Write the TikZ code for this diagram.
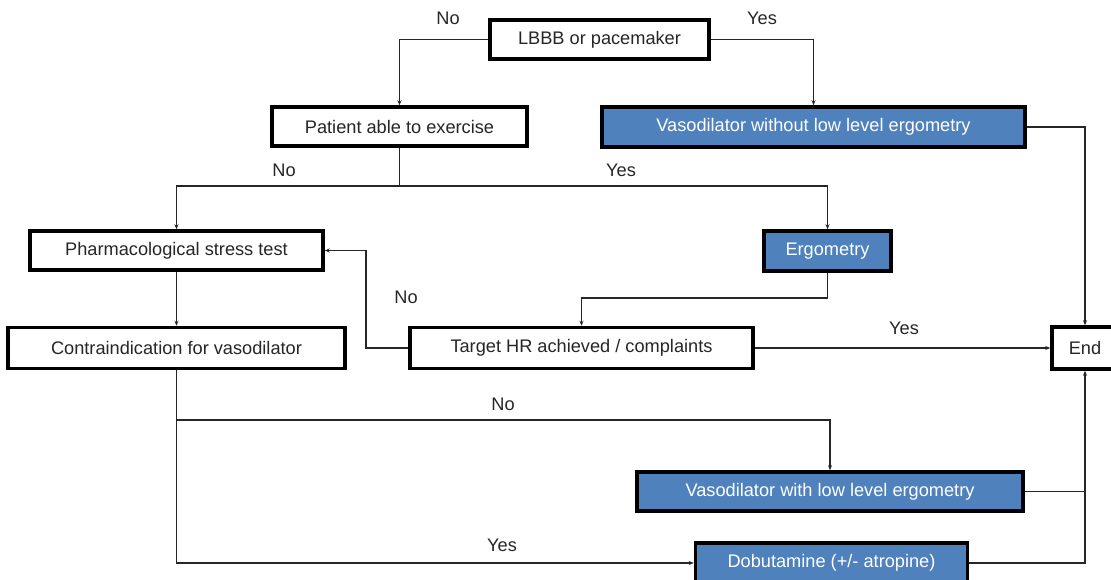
\documentclass[tikz,border=0pt]{standalone}
\usepackage{fontspec}
\setmainfont{Liberation Sans}
\usetikzlibrary{arrows.meta}
\definecolor{boxblue}{HTML}{4F81BD}
\begin{document}
\begin{tikzpicture}[x=1pt,y=-1pt,
  box/.style={draw=black, line width=3.5pt, fill=white, inner sep=0pt, font=\fontsize{18.2}{21}\selectfont, text=black!85},
  bluebox/.style={box, fill=boxblue, text=white},
  conn/.style={draw=black!85, line width=1.6pt, -{Stealth[length=5pt,width=4pt]}},
  line/.style={draw=black!85, line width=1.6pt},
  lab/.style={font=\fontsize{18.2}{21}\selectfont, text=black!85, inner sep=0pt}]
\useasboundingbox (0,0) rectangle (1111,580);
\node[box, minimum width=219pt, minimum height=39pt] (lbbb) at (599.5,39.5) {LBBB or pacemaker};
\node[box, minimum width=255pt, minimum height=39pt] (pat) at (399.5,126.5) {Patient able to exercise};
\node[bluebox, minimum width=423pt, minimum height=40pt] (vwo) at (813.5,127) {Vasodilator without low level ergometry};
\node[box, minimum width=293pt, minimum height=39pt] (pharm) at (176.5,250.5) {Pharmacological stress test};
\node[bluebox, minimum width=127pt, minimum height=40pt] (ergo) at (827.5,251) {Ergometry};
\node[box, minimum width=337pt, minimum height=41pt] (contra) at (176.5,348) {Contraindication for vasodilator};
\node[box, minimum width=343pt, minimum height=41pt] (target) at (581.5,348) {Target HR achieved / complaints};
\node[box, minimum width=66pt, minimum height=42pt] (end) at (1085,348) {End};
\node[bluebox, minimum width=386pt, minimum height=39pt] (vw) at (830,491.5) {Vasodilator with low level ergometry};
\node[bluebox, minimum width=272pt, minimum height=40pt] (dob) at (831.5,563) {Dobutamine (+/- atropine)};

\coordinate (j1) at (399.5,186);
\coordinate (j2) at (176.5,420);
\coordinate (j3) at (1085,491.5);

\draw[conn] (lbbb.west) -| (pat.north);
\draw[conn] (lbbb.east) -| (vwo.north);
\draw[line] (pat.south) -- (j1);
\draw[conn] (j1) -| (pharm.north);
\draw[conn] (j1) -| (ergo.north);
\draw[conn] (vwo.east) -| (end.north);
\draw[conn] (pharm.south) -- (contra.north);
\draw[conn] (ergo.south) |- (581.5,298) -- (target.north);
\draw[conn] (target.west) -- (366,348) |- (pharm.east);
\draw[conn] (target.east) -- (end.west);
\draw[line] (contra.south) -- (j2);
\draw[conn] (j2) -| (vw.north);
\draw[conn] (j2) |- (dob.west);
\draw[line] (vw.east) -- (j3);
\draw[conn] (dob.east) -| (end.south);

\node[lab] (l1) at (448,18) {No};
\node[lab] (l2) at (762,18) {Yes};
\node[lab] (l3) at (284,170) {No};
\node[lab] (l4) at (621,170) {Yes};
\node[lab] (l5) at (406,297) {No};
\node[lab] (l6) at (904,328) {Yes};
\node[lab] (l7) at (503,404) {No};
\node[lab] (l8) at (502,545) {Yes};
\end{tikzpicture}
\end{document}
